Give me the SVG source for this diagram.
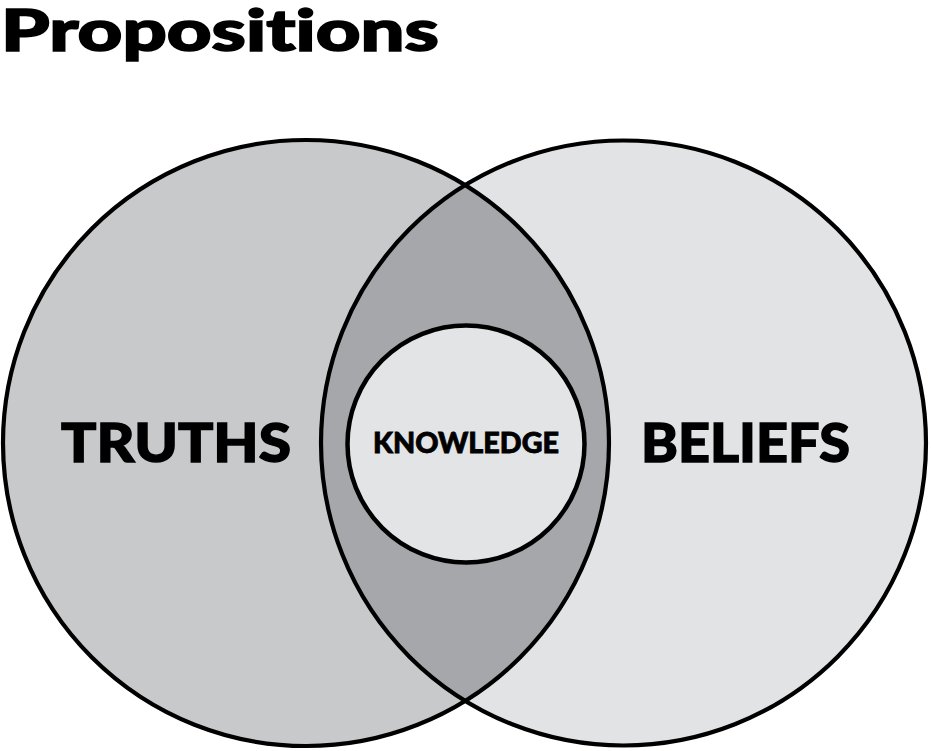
<svg xmlns="http://www.w3.org/2000/svg" width="931" height="751" viewBox="0 0 931 751">
  <style>
    .outline { fill: none; stroke: #000; stroke-width: 4.2; }
    .lbl { font-family: "Lato", "Open Sans", "Liberation Sans", sans-serif; font-weight: 900; fill: #000; stroke: #000; font-variant-ligatures: none; }
  </style>
  <rect width="931" height="751" fill="#ffffff"/>
  <text class="lbl" x="1" y="51" font-size="58" stroke-width="1.6" textLength="438" lengthAdjust="spacingAndGlyphs">Propositions</text>
  <g id="truths">
    <circle cx="306" cy="443" r="303" fill="#c8c9cb"/>
  </g>
  <g id="beliefs">
    <circle cx="623.5" cy="443" r="302.5" fill="#e2e3e5"/>
  </g>
  <g id="overlap">
    <path d="M465,185 A303,303 0 0 1 465,701 A302.5,302.5 0 0 1 465,185 Z" fill="#a6a7aa"/>
  </g>
  <g id="outlines">
    <circle class="outline" cx="306" cy="443" r="303"/>
    <circle class="outline" cx="623.5" cy="443" r="302.5"/>
  </g>
  <g id="knowledge">
    <circle cx="466" cy="444" r="118.5" fill="#e3e4e6" stroke="#000" stroke-width="4.5"/>
    <text class="lbl" x="373" y="453" font-size="28" stroke-width="0.8" textLength="186" lengthAdjust="spacingAndGlyphs">KNOWLEDGE</text>
  </g>
  <text class="lbl" x="61" y="462" font-size="54" stroke-width="1.4" textLength="230" lengthAdjust="spacingAndGlyphs">TRUTHS</text>
  <text class="lbl" x="641" y="462" font-size="54" stroke-width="1.4" textLength="209" lengthAdjust="spacingAndGlyphs">BELIEFS</text>
</svg>
